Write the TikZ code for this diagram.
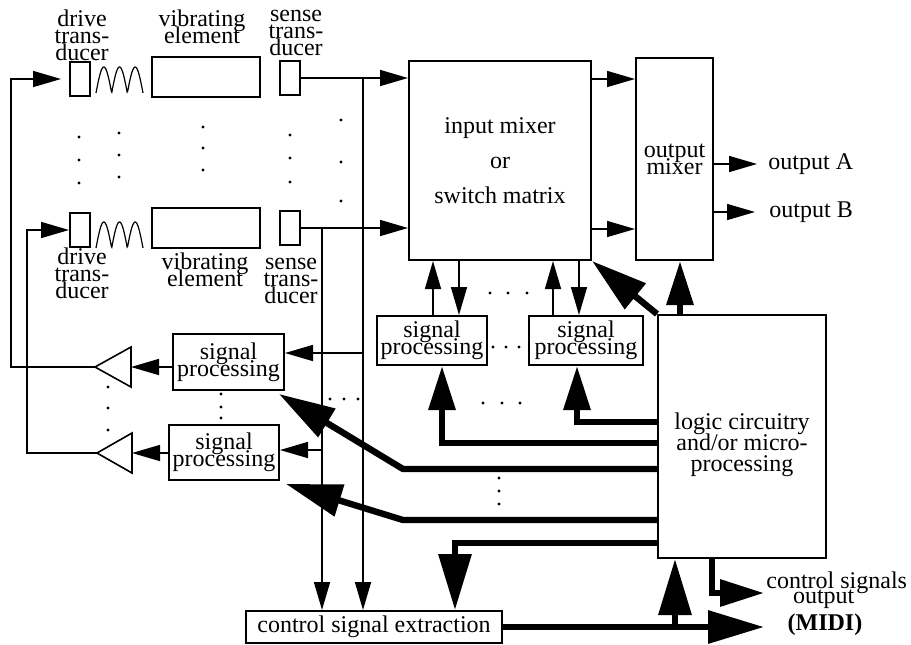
\documentclass[tikz,border=0pt]{standalone}
\usepackage{fontspec}
\setmainfont{Liberation Serif}
\usetikzlibrary{arrows.meta,calc,positioning}

\newcommand\tightlines[1]{\fontsize{12}{#1}\selectfont\lineskiplimit=-20pt\relax}

\tikzset{
	box/.style={draw, line width=1pt, inner sep=0pt},
	tbox/.style={box, minimum width=10pt, minimum height=17pt},
	vibbox/.style={box, minimum width=54pt, minimum height=20pt},
	spbox/.style={box, align=center, font=\tightlines{8.5}},
	lbl/.style={align=center, inner sep=0pt, font=\tightlines{8.5}},
	wire/.style={line width=0.8pt},
	sig/.style={wire, -{Triangle[length=14pt,width=8pt]}},
	bus/.style={line width=3.2pt, -{Triangle[length=22pt,width=13pt]}},
	bigbus/.style={line width=3.2pt, -{Triangle[length=28pt,width=16pt]}}
}

\begin{document}
\begin{tikzpicture}[x=0.5pt, y=-0.5pt, font=\fontsize{12}{14}\selectfont]
	\useasboundingbox (0,0) rectangle (911,644);
	\node[tbox] (drvA) at (80,79) {};
	\node[vibbox] (vibA) at (206,77) {};
	\node[tbox] (senA) at (290,78) {};
	\node[tbox] (drvB) at (80,230) {};
	\node[vibbox] (vibB) at (206,228) {};
	\node[tbox] (senB) at (290,228) {};
	\draw[line width=0.6pt] plot[domain=0:1, samples=90] ({96+47*\x},{93-26*abs(sin(540*\x))});
	\draw[line width=0.6pt] plot[domain=0:1, samples=90] ({96+47*\x},{248-26*abs(sin(540*\x))});
	\node[lbl, anchor=north] (drvAl) at (82,9) {drive\\trans-\\ducer};
	\node[lbl, anchor=north] (vibAl) at (202,9) {vibrating\\element};
	\node[lbl, anchor=north] (senAl) at (296,10) {sense\\trans-\\ducer};
	\node[lbl, anchor=north] (drvBl) at (82,247) {drive\\trans-\\ducer};
	\node[lbl, anchor=north] (vibBl) at (205,252) {vibrating\\element};
	\node[lbl, anchor=north] (senBl) at (291,258) {sense\\trans-\\ducer};
	\node[box, minimum width=91pt, minimum height=99.5pt, align=center, font=\tightlines{17.5}] (mix) at (500,160.5) {input mixer\\or\\switch matrix};
	\node[box, minimum width=38.5pt, minimum height=101pt, align=center, font=\tightlines{8.5}] (omix) at (674.5,159) {output\\mixer};
	\node[anchor=west, inner sep=0pt, inner xsep=5.5pt] (outA) at (757,164) {output A};
	\node[anchor=west, inner sep=0pt, inner xsep=7pt] (outB) at (755,212) {output B};
	\node[spbox, minimum width=55pt, minimum height=24.5pt] (spM1) at (432,340.5) {signal\\processing};
	\node[spbox, minimum width=57pt, minimum height=24.5pt] (spM2) at (586,340.5) {signal\\processing};
	\node[spbox, minimum width=55.5pt, minimum height=28pt] (spL1) at (228.5,362) {signal\\processing};
	\node[spbox, minimum width=55pt, minimum height=27.5pt] (spL2) at (224,452.5) {signal\\processing};
	\node[box, minimum width=84pt, minimum height=121.5pt] (logic) at (742,436.5) {};
	\node[align=center, inner sep=0pt, font=\tightlines{10.5}] (logictxt) at (742,445) {logic circuitry\\and/or micro-\\processing};
	\node[box, minimum width=128pt, minimum height=16pt] (cse) at (374,627) {control signal extraction};
	\node[anchor=west, align=center, inner sep=0pt, font=\tightlines{7.5}] (ctl) at (766,590) {control signals\\output\hspace*{13pt}};
	\node[inner sep=0pt, font=\fontsize{12}{14}\selectfont\bfseries] (midi) at (825,625) {(MIDI)};
	\coordinate (bufA) at (95,367);
	\coordinate (bufAin) at (131,367);
	\coordinate (bufB) at (97,453);
	\coordinate (bufBin) at (132,453);
	\coordinate (loopA) at (11,367);
	\coordinate (loopB) at (27,453);
	\coordinate (tapA) at (363,0);
	\coordinate (tapB) at (322,0);
	\coordinate (ctlTip) at (764,593);
	\coordinate (midiTip) at (764,627);
	\draw[wire] (bufA) -- (131,347) -- (131,387) -- cycle;
	\draw[wire] (bufB) -- (132,433) -- (132,473) -- cycle;
	\draw[sig, shorten >=4pt] (bufA) -- (loopA) |- (drvA.west);
	\draw[sig] (bufB) -- (loopB) |- (drvB.west);
	\draw[sig] (spL1.west |- bufAin) -- (bufAin);
	\draw[sig] (spL2.west |- bufBin) -- (bufBin);
	\draw[sig] (senA.east) -- (senA.east -| mix.west);
	\draw[sig] (senA.east -| tapA) -- (tapA |- cse.north);
	\draw[sig] (senB.east) -- (senB.east -| mix.west);
	\draw[sig] (senB.east -| tapB) -- (tapB |- cse.north);
	\draw[sig] (tapA |- 0,353) -- (spL1.east |- 0,353);
	\draw[sig] (tapB |- 0,450) -- (spL2.east |- 0,450);
	\draw[sig] (mix.east |- 0,79) -- (omix.west |- 0,79);
	\draw[sig] (mix.east |- 0,229) -- (omix.west |- 0,229);
	\draw[sig] (omix.east |- outA) -- (outA.west);
	\draw[sig] (omix.east |- outB) -- (outB.west);
	\draw[sig] (spM1.north -| 433,0) -- (mix.south -| 433,0);
	\draw[sig] (mix.south -| 459,0) -- (spM1.north -| 459,0);
	\draw[sig] (spM2.north -| 553,0) -- (mix.south -| 553,0);
	\draw[sig] (mix.south -| 579,0) -- (spM2.north -| 579,0);
	\draw[bigbus] (logic.north west) -- (mix.south east);
	\draw[bus] (logic.north -| 680,0) -- (omix.south -| 680,0);
	\draw[bus] (logic.west |- 0,422) -| (spM2.south -| 577,0);
	\draw[bus] (logic.west |- 0,443) -| (spM1.south -| 442,0);
	\draw[bigbus] (logic.west |- 0,469) -- (403,469) -- ([shift={(-3pt,-1.5pt)}]spL1.south east);
	\draw[bigbus] (logic.west |- 0,520) -- (403,520) -- ([shift={(3pt,-1.5pt)}]spL2.south east);
	\draw[bigbus] (logic.west |- 0,543) -| (cse.north -| 455,0);
	\draw[bus] (logic.south -| 712,0) |- (ctlTip);
	\draw[bigbus] (cse.east) -- (midiTip);
	\draw[bigbus] (cse.east -| 675,0) -- (logic.south -| 675,0);
	\foreach \x/\y in {79/137, 79/160, 79/183, 119/133, 119/155, 119/177, 203/127, 203/148, 203/170,
		290/135, 290/158, 290/182, 341/120, 341/162, 341/201, 490/293, 508/293, 527/293,
		493/347, 506/347, 519/347, 483/403, 502/403, 520/403, 499/478, 499/491, 499/504,
		330/399, 344/399, 358/399, 221/394, 221/407, 221/418, 108/387, 108/408, 108/430}
	\fill (\x,\y) circle (0.8pt);
\end{tikzpicture}
\end{document}
